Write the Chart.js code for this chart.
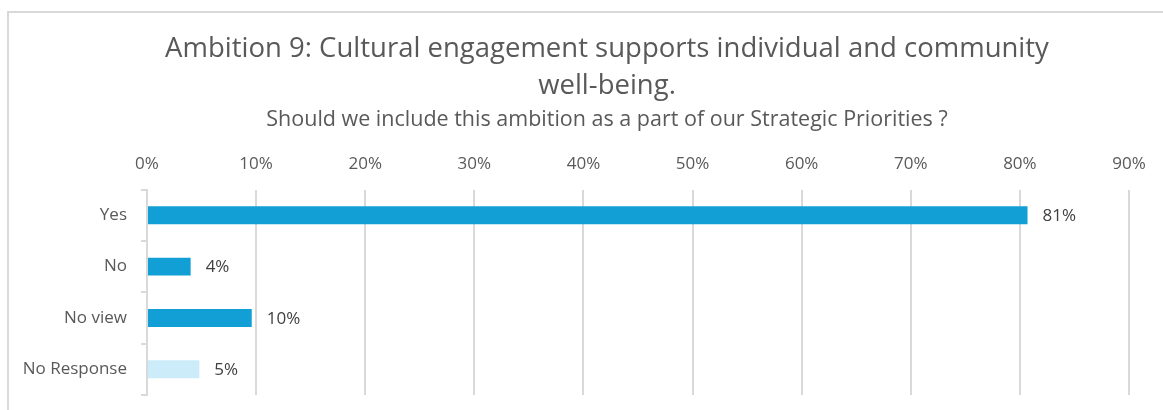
<!DOCTYPE html>
<html>
<head>
<meta charset="utf-8">
<script src="https://cdn.jsdelivr.net/npm/chart.js@4/dist/chart.umd.min.js"></script>
<style>
  html, body { margin: 0; padding: 0; background: #ffffff; overflow: hidden; }
  #frame { position: absolute; left: 7px; top: 11px; width: 1170px; height: 420px; border: 2px solid #d9d9d9; box-sizing: border-box; }
  #c { position: absolute; left: 0; top: 0; }
</style>
</head>
<body>
<div id="frame"></div>
<canvas id="c" width="1163" height="410"></canvas>
<script>
const categories = ["Yes", "No", "No view", "No Response"];
const values = [80.7, 4.0, 9.6, 4.8];
const valueLabels = ["81%", "4%", "10%", "5%"];
const barColors = ["#129fd6", "#129fd6", "#129fd6", "#cdecfa"];
const titleLines = ["Ambition 9: Cultural engagement supports individual and community", "well-being."];
const subtitleText = "Should we include this ambition as a part of our Strategic Priorities ?";

const FONT = "'Open Sans', 'Noto Sans', sans-serif";
const GREY = "#595959";

const labelPlugin = {
  id: "barLabels",
  beforeDraw(chart) {
    // shift the centring box of title & subtitle to match the reference
    chart.boxes.forEach(b => {
      if (b.options && b.options.text !== undefined && !b.axis) {
        b.left = 85;
      }
    });
  },
  afterDatasetsDraw(chart) {
    const ctx = chart.ctx;
    const meta = chart.getDatasetMeta(0);
    ctx.save();
    ctx.font = "17px " + FONT;
    ctx.fillStyle = "#404040";
    ctx.textAlign = "left";
    ctx.textBaseline = "middle";
    meta.data.forEach((bar, i) => {
      ctx.fillText(valueLabels[i], bar.x + 15, bar.y + 1);
    });
    ctx.restore();
  }
};

new Chart(document.getElementById("c"), {
  type: "bar",
  data: {
    labels: categories,
    datasets: [{
      data: values,
      backgroundColor: barColors,
      borderWidth: 0,
      barPercentage: 0.35,
      categoryPercentage: 1.0
    }]
  },
  options: {
    indexAxis: "y",
    responsive: false,
    maintainAspectRatio: false,
    animation: false,
    devicePixelRatio: 1,
    layout: { padding: { left: 0, right: 34, top: 0, bottom: 15 } },
    plugins: {
      legend: { display: false },
      tooltip: { enabled: false },
      title: {
        display: true,
        text: titleLines,
        color: GREY,
        font: { family: FONT, size: 27.5, weight: "normal", lineHeight: 1.36 },
        padding: { top: 30, bottom: 0 }
      },
      subtitle: {
        display: true,
        text: subtitleText,
        color: GREY,
        font: { family: FONT, size: 21.5, weight: "normal", lineHeight: 1.2 },
        padding: { top: 2, bottom: 3 }
      }
    },
    scales: {
      x: {
        position: "top",
        min: 0,
        max: 90,
        ticks: {
          stepSize: 10,
          color: GREY,
          font: { family: FONT, size: 17 },
          padding: 15,
          callback: v => v + "%"
        },
        grid: { color: "#d9d9d9", lineWidth: 2, drawTicks: false },
        border: { display: false },
        afterFit: s => { s.height = 54; }
      },
      y: {
        ticks: {
          color: GREY,
          font: { family: FONT, size: 17 },
          padding: 14
        },
        grid: { color: "#d9d9d9", lineWidth: 2, drawOnChartArea: false, drawTicks: true, tickLength: 6, offset: true },
        border: { display: true, color: "#d9d9d9", width: 2 },
        afterFit: s => { s.width = 147; s.paddingTop = 0; s.paddingBottom = 0; }
      }
    }
  },
  plugins: [labelPlugin]
});
</script>
</body>
</html>
